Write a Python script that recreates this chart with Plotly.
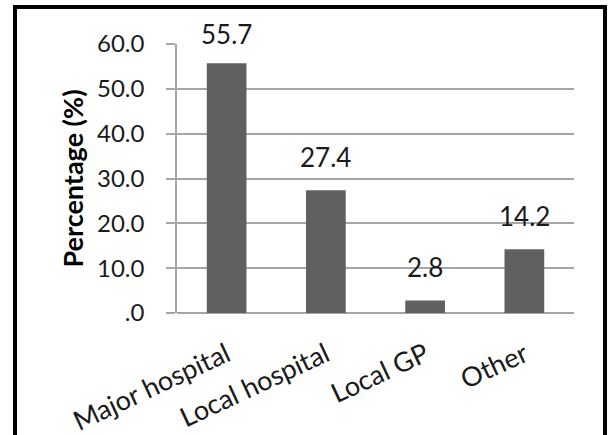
import plotly.graph_objects as go

# Where patients went for treatment (% of respondents)
categories = ["Major hospital", "Local hospital", "Local GP", "Other"]
percentages = [55.7, 27.4, 2.8, 14.2]
y_tick_values = [0, 10, 20, 30, 40, 50, 60]
y_tick_labels = [".0", "10.0", "20.0", "30.0", "40.0", "50.0", "60.0"]

W, H = 610, 435
M_LEFT, M_RIGHT, M_TOP, M_BOTTOM = 177, 36, 44, 122
plot_w = W - M_LEFT - M_RIGHT
plot_h = H - M_TOP - M_BOTTOM

FONT = "Lato, Calibri, Carlito, sans-serif"
GRID = "#a6a6a6"
BAR = "#606060"

fig = go.Figure(
    go.Bar(
        x=categories,
        y=percentages,
        marker=dict(color=BAR, line=dict(width=0)),
        hoverinfo="skip",
    )
)

# value labels above each bar
label_shift = [29, 33, 33, 33]
for cat, val, dy in zip(categories, percentages, label_shift):
    fig.add_annotation(
        x=cat, y=val, text=f"{val:.1f}", showarrow=False,
        yanchor="middle", yshift=dy,
        font=dict(family=FONT, size=26, color="#1a1a1a"),
    )

# outer chart frame (drawn in paper units relative to the plot area)
def px_x(px):
    return (px - M_LEFT) / plot_w

def px_y(py):
    return (H - M_BOTTOM - py) / plot_h

fig.add_shape(
    type="rect", xref="paper", yref="paper",
    x0=px_x(15), x1=px_x(605), y0=px_y(460), y1=px_y(7),
    line=dict(color="#000000", width=4), fillcolor="rgba(0,0,0,0)",
    layer="above",
)

fig.update_layout(
    width=W, height=H,
    margin=dict(l=M_LEFT, r=M_RIGHT, t=M_TOP, b=M_BOTTOM, pad=0, autoexpand=False),
    paper_bgcolor="white", plot_bgcolor="white",
    bargap=0.6, showlegend=False,
    font=dict(family=FONT, color="#1a1a1a"),
    xaxis=dict(
        showgrid=False, showline=False, ticks="",
        tickangle=-25, ticklabelstandoff=20, automargin=False,
        tickfont=dict(family=FONT, size=27, color="#1a1a1a"),
        fixedrange=True,
    ),
    yaxis=dict(
        range=[0, 60], tickvals=y_tick_values, ticktext=y_tick_labels,
        showgrid=True, gridcolor=GRID, gridwidth=1.5,
        showline=True, linecolor=GRID, linewidth=1.5,
        ticks="outside", ticklen=9, tickcolor=GRID, tickwidth=1.5,
        ticklabelstandoff=17, automargin=False,
        tickfont=dict(family=FONT, size=24, color="#1a1a1a"),
        zeroline=True, zerolinecolor=GRID, zerolinewidth=1.5,
        title=dict(text="<b>Percentage (%)</b>", standoff=6,
                   font=dict(family=FONT, size=27, color="#000000")),
        fixedrange=True,
    ),
)

fig.write_html("out.html")
